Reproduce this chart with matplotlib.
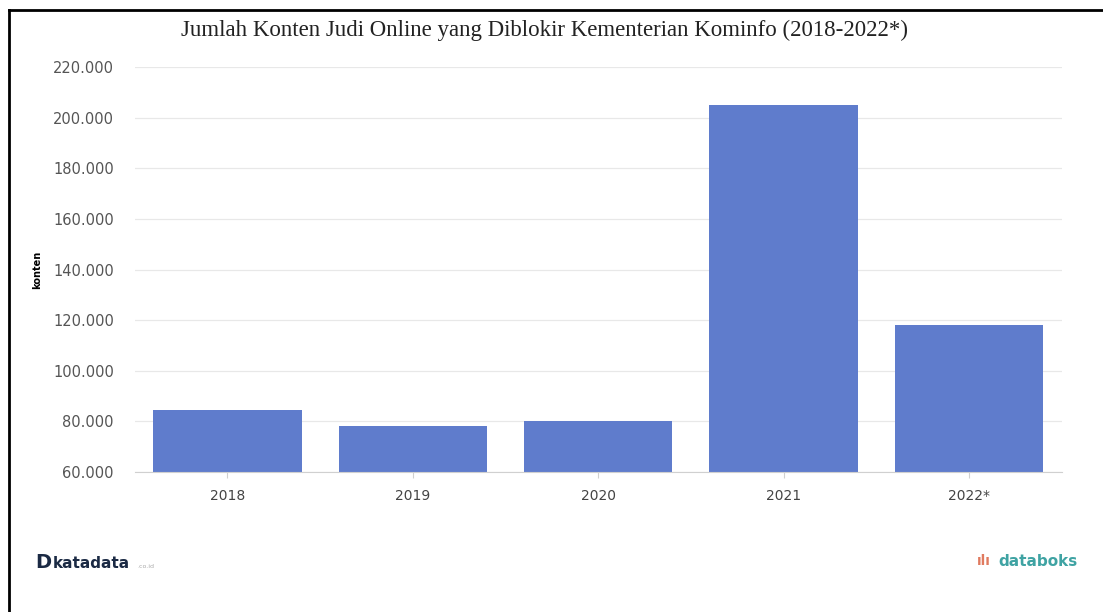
import matplotlib.pyplot as plt
from matplotlib.lines import Line2D
from matplotlib.ticker import FuncFormatter

# Data
years = ['2018', '2019', '2020', '2021', '2022*']
konten = [84500, 78300, 80300, 204900, 118000]
yticks = [60000, 80000, 100000, 120000, 140000, 160000, 180000, 200000, 220000]

fig = plt.figure(figsize=(11.03, 6.12), dpi=100)
ax = fig.add_axes([134.8 / 1103, 1 - 472 / 612, (1061.7 - 134.8) / 1103, (472 - 67) / 612])

x = range(len(years))
ax.bar(x, konten, width=0.8, color='#5f7ccc', zorder=2)

ax.set_xlim(-0.5, len(years) - 0.5)
ax.set_ylim(60000, 220000)
ax.set_yticks(yticks)
ax.yaxis.set_major_formatter(FuncFormatter(lambda v, p: f'{int(v):,}'.replace(',', '.')))
ax.set_xticks(list(x))
ax.set_xticklabels(years)

ax.grid(axis='y', color='#e8e8e8', linewidth=0.9, zorder=0)
for s in ['top', 'right', 'left']:
    ax.spines[s].set_visible(False)
ax.spines['bottom'].set_color('#d0d0d0')
ax.tick_params(axis='y', length=0, pad=15, labelsize=10.5, labelcolor='#555555')
ax.tick_params(axis='x', length=4, color='#d0d0d0', pad=8, labelsize=10, labelcolor='#444444')

ax.set_ylabel('konten', fontsize=7, fontweight='bold')
ax.yaxis.set_label_coords(-0.1, 0.5)

fig.text(0.494, 1 - 30 / 612, 'Jumlah Konten Judi Online yang Diblokir Kementerian Kominfo (2018-2022*)',
         ha='center', va='center', fontsize=16.5, family='Liberation Serif', color='#222222')

# branding
fig.text(35 / 1103, 1 - 563 / 612, 'D', fontsize=14, fontweight='bold', color='#1b2a44', va='center')
fig.text(53 / 1103, 1 - 563 / 612, 'katadata', fontsize=11, fontweight='bold', color='#1b2a44', va='center')
fig.text(137 / 1103, 1 - 566 / 612, '.co.id', fontsize=4.5, color='#aaaaaa', va='center')
fig.text(977 / 1103, 1 - 561 / 612, 'ılı', fontsize=10, color='#e07a5f', va='center', fontweight='bold')
fig.text(998 / 1103, 1 - 561 / 612, 'databoks', fontsize=11, color='#3fa3a3', va='center', fontweight='bold')

# frame of the screenshot
fig.add_artist(Line2D([9 / 1103, 9 / 1103], [0, 1 - 10 / 612], color='black', linewidth=2))
fig.add_artist(Line2D([9 / 1103, 1], [1 - 10 / 612, 1 - 10 / 612], color='black', linewidth=2))

fig.savefig('out.png', dpi=100, facecolor='white')
